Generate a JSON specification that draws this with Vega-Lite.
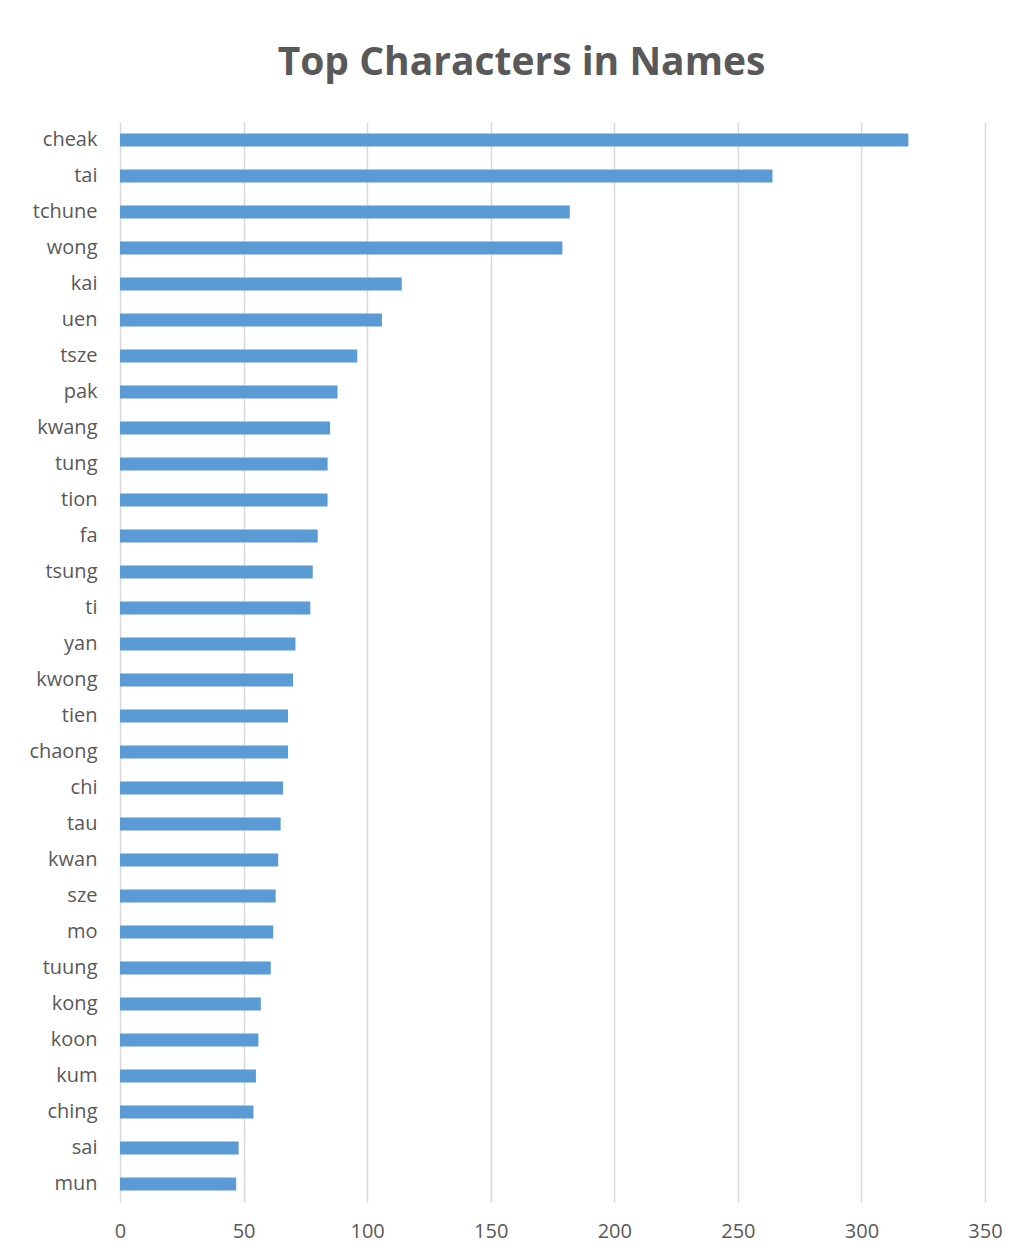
{
  "$schema": "https://vega.github.io/schema/vega-lite/v6.json",
  "autosize": {"type": "none"},
  "width": 865,
  "height": 1080,
  "padding": {"left": 120, "top": 122, "right": 34, "bottom": 56},
  "background": "white",
  "title": {
    "text": "Top Characters in Names",
    "font": "Open Sans",
    "fontSize": 39,
    "fontWeight": "bold",
    "color": "#595959",
    "anchor": "middle",
    "frame": "group",
    "dx": -31,
    "offset": 39
  },
  "data": {
    "values": [
      {"name": "cheak", "count": 319},
      {"name": "tai", "count": 264},
      {"name": "tchune", "count": 182},
      {"name": "wong", "count": 179},
      {"name": "kai", "count": 114},
      {"name": "uen", "count": 106},
      {"name": "tsze", "count": 96},
      {"name": "pak", "count": 88},
      {"name": "kwang", "count": 85},
      {"name": "tung", "count": 84},
      {"name": "tion", "count": 84},
      {"name": "fa", "count": 80},
      {"name": "tsung", "count": 78},
      {"name": "ti", "count": 77},
      {"name": "yan", "count": 71},
      {"name": "kwong", "count": 70},
      {"name": "tien", "count": 68},
      {"name": "chaong", "count": 68},
      {"name": "chi", "count": 66},
      {"name": "tau", "count": 65},
      {"name": "kwan", "count": 64},
      {"name": "sze", "count": 63},
      {"name": "mo", "count": 62},
      {"name": "tuung", "count": 61},
      {"name": "kong", "count": 57},
      {"name": "koon", "count": 56},
      {"name": "kum", "count": 55},
      {"name": "ching", "count": 54},
      {"name": "sai", "count": 48},
      {"name": "mun", "count": 47}
    ]
  },
  "mark": {"type": "bar", "color": "#5B9BD5", "size": 13},
  "encoding": {
    "y": {
      "field": "name",
      "type": "nominal",
      "sort": null,
      "scale": {"paddingInner": 0, "paddingOuter": 0},
      "axis": {
        "title": null,
        "domain": false,
        "ticks": false,
        "labelFont": "Open Sans",
        "labelFontSize": 20,
        "labelColor": "#595959",
        "labelPadding": 23
      }
    },
    "x": {
      "field": "count",
      "type": "quantitative",
      "scale": {"domain": [0, 350], "nice": false},
      "axis": {
        "title": null,
        "values": [0, 50, 100, 150, 200, 250, 300, 350],
        "domain": false,
        "ticks": false,
        "grid": true,
        "gridColor": "#d9d9d9",
        "gridWidth": 1.5,
        "labelFlush": false,
        "labelFont": "Open Sans",
        "labelFontSize": 20,
        "labelColor": "#595959",
        "labelPadding": 19
      }
    }
  },
  "config": {"view": {"stroke": null}}
}
